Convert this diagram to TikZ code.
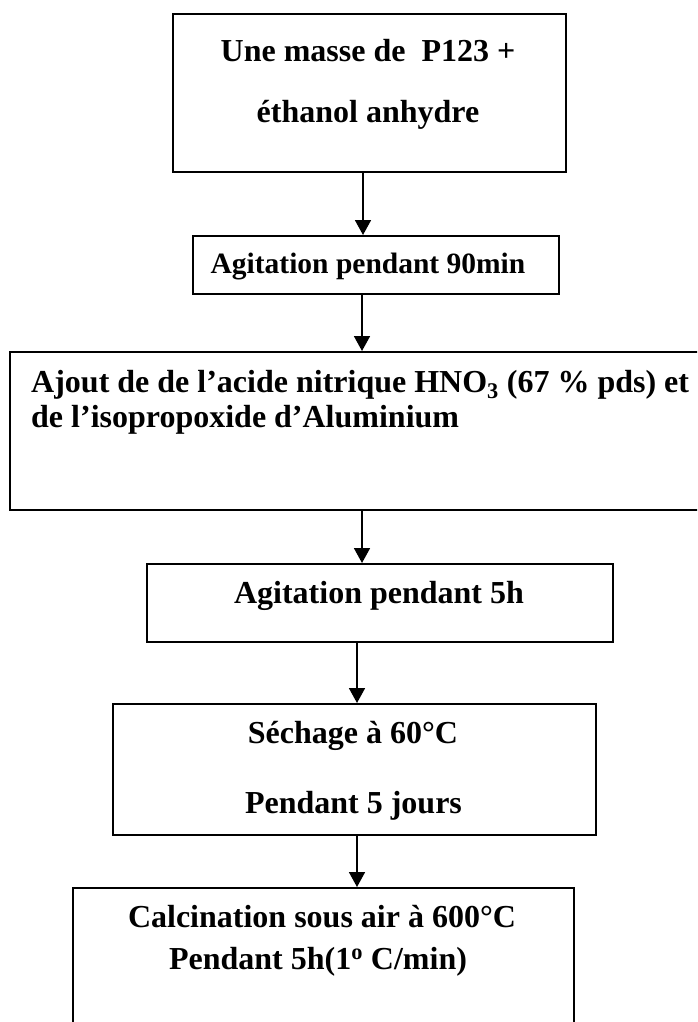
\documentclass[tikz,border=0pt]{standalone}
\usepackage{fontspec}
\setmainfont{Liberation Serif}
\usetikzlibrary{arrows.meta}
\begin{document}
\begin{tikzpicture}[x=1pt,y=-1pt,
  box/.style={draw=black,line width=1.6pt,rectangle,inner sep=0pt,anchor=north west},
  txt/.style={inner sep=0pt,font=\fontsize{32}{32}\selectfont\bfseries},
  smalltxt/.style={inner sep=0pt,font=\fontsize{29.5}{30}\selectfont\bfseries},
  arr/.style={line width=1.8pt,-{Triangle[width=16pt,length=15pt]}}]
\useasboundingbox (0,0) rectangle (697,1022);
\clip (0,0) rectangle (697,1022);
% boxes
\node[box,minimum width=393pt,minimum height=158pt] (b1) at (172,13) {};
\node[box,minimum width=366pt,minimum height=58pt] (b2) at (192,235) {};
\node[box,minimum width=720pt,minimum height=158pt] (b3) at (9,351) {};
\node[box,minimum width=466pt,minimum height=78pt] (b4) at (146,563) {};
\node[box,minimum width=483pt,minimum height=131pt] (b5) at (112,703) {};
\node[box,minimum width=501pt,minimum height=180pt] (b6) at (72,887) {};
% texts
\node[txt,anchor=base] (t1a) at (368,62) {Une masse de\ \ P123 +};
\node[txt,anchor=base] (t1b) at (368,123) {éthanol anhydre};
\node[smalltxt,anchor=base] (t2) at (368,273) {Agitation pendant 90min};
\node[txt,anchor=base west] (t3a) at (31,392) {Ajout de de l’acide nitrique HNO\textsubscript{3} (67 \% pds) et};
\node[txt,anchor=base west] (t3b) at (31,427) {de l’isopropoxide d’Aluminium};
\node[txt,anchor=base] (t4) at (379,603) {Agitation pendant 5h};
\node[txt,anchor=base] (t5a) at (353,743) {Séchage à 60°C};
\node[txt,anchor=base] (t5b) at (353.5,813) {Pendant 5 jours};
\node[txt,anchor=base] (t6a) at (322,927) {Calcination sous air à 600°C};
\node[txt,anchor=base] (t6b) at (318,969) {Pendant 5h(1\textsuperscript{o} C/min)};
% connectors
\draw[arr] (363,0 |- b1.south) -- (363,0 |- b2.north);
\draw[arr] (362,0 |- b2.south) -- (362,0 |- b3.north);
\draw[arr] (362,0 |- b3.south) -- (362,0 |- b4.north);
\draw[arr] (357,0 |- b4.south) -- (357,0 |- b5.north);
\draw[arr] (357,0 |- b5.south) -- (357,0 |- b6.north);
\end{tikzpicture}
\end{document}
